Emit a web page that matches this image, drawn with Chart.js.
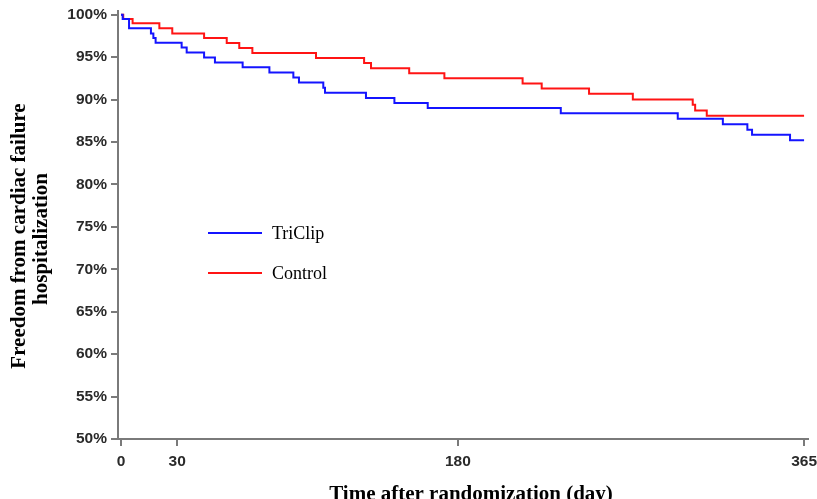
<!DOCTYPE html>
<html>
<head>
<meta charset="utf-8">
<script src="https://cdn.jsdelivr.net/npm/chart.js@4/dist/chart.umd.min.js"></script>
<style>
html,body{margin:0;padding:0;background:#fff;overflow:hidden}
#wrap{width:817px;height:499px;position:relative}
</style>
</head>
<body>
<div id="wrap"><canvas id="c" width="817" height="499"></canvas></div>
<script>
// ---- data (Kaplan-Meier steps) ----
const seriesNames = ['TriClip', 'Control'];
const triclipDays = [0, 0.9, 4.3, 16.0, 17.3, 18.5, 32.4, 35.1, 44.4, 50.2, 65.0, 79.3, 92.1, 95.1, 108.1, 109.0, 130.9, 146.1, 163.9, 235.0, 297.5, 321.6, 334.7, 337.2, 357.5, 365];
const triclipSurv = [100, 99.5, 98.4, 97.8, 97.25, 96.7, 96.15, 95.56, 94.97, 94.38, 93.8, 93.2, 92.6, 92.0, 91.4, 90.8, 90.2, 89.6, 89.0, 88.4, 87.75, 87.1, 86.45, 85.85, 85.2, 85.2];
const controlDays = [0, 1.2, 6.2, 20.5, 27.4, 44.4, 56.5, 63.2, 70.2, 104.2, 129.9, 133.6, 154.0, 172.8, 214.6, 224.8, 250.1, 273.5, 305.5, 306.8, 313.0, 365];
const controlSurv = [100, 99.5, 99.0, 98.4, 97.8, 97.25, 96.66, 96.07, 95.5, 94.9, 94.3, 93.7, 93.1, 92.5, 91.9, 91.3, 90.7, 90.0, 89.4, 88.7, 88.1, 88.1];
const xTickValues = [0, 30, 180, 365];
const yTickValues = [50, 55, 60, 65, 70, 75, 80, 85, 90, 95, 100];
const xTitle = 'Time after randomization (day)';
const yTitleLines = ['Freedom from cardiac failure', 'hospitalization'];

const toPoints = (xs, ys) => xs.map((x, i) => ({ x: x, y: ys[i] }));
const seriesColors = ['#1414ff', '#ff1414'];

const axisColor = '#7a7a7a';
const tickFont = { family: '"Liberation Sans", Arial, sans-serif', size: 15.5, weight: 'bold' };

const overlayPlugin = {
  id: 'overlay',
  afterDraw(chart) {
    const ctx = chart.ctx;
    const area = chart.chartArea;
    ctx.save();
    // legend inside plot
    const items = [
      { name: seriesNames[0], color: seriesColors[0], y: area.top + 222 },
      { name: seriesNames[1], color: seriesColors[1], y: area.top + 262 }
    ];
    ctx.font = '18px "Liberation Serif", "Times New Roman", serif';
    ctx.textBaseline = 'middle';
    ctx.textAlign = 'left';
    items.forEach(it => {
      ctx.strokeStyle = it.color;
      ctx.lineWidth = 2;
      ctx.beginPath();
      ctx.moveTo(area.left + 90, it.y);
      ctx.lineTo(area.left + 144, it.y);
      ctx.stroke();
      ctx.fillStyle = '#000';
      ctx.fillText(it.name, area.left + 154, it.y + 1);
    });
    // x title
    ctx.font = 'bold 21px "Liberation Serif", "Times New Roman", serif';
    ctx.textAlign = 'center';
    ctx.textBaseline = 'alphabetic';
    ctx.fillText(xTitle, 471, 500);
    // y title (two lines, rotated)
    const baselines = [25, 47];
    const centers = [236, 239];
    yTitleLines.forEach((t, i) => {
      ctx.save();
      ctx.translate(baselines[i], centers[i]);
      ctx.rotate(-Math.PI / 2);
      ctx.fillText(t, 0, 0);
      ctx.restore();
    });
    ctx.restore();
  }
};

new Chart(document.getElementById('c'), {
  type: 'line',
  data: {
    datasets: [
      { label: seriesNames[0], data: toPoints(triclipDays, triclipSurv), borderColor: seriesColors[0], borderWidth: 2, stepped: true, pointRadius: 0, fill: false },
      { label: seriesNames[1], data: toPoints(controlDays, controlSurv), borderColor: seriesColors[1], borderWidth: 2, stepped: true, pointRadius: 0, fill: false }
    ]
  },
  options: {
    responsive: false,
    animation: false,
    devicePixelRatio: 1,
    layout: { padding: { top: 11, right: 9, left: 0, bottom: 0 } },
    plugins: { legend: { display: false }, tooltip: { enabled: false } },
    scales: {
      x: {
        type: 'linear',
        min: -1.6,
        max: 367.1,
        afterBuildTicks: s => { s.ticks = xTickValues.map(v => ({ value: v })); },
        afterFit: s => { s.height = 60; s.paddingLeft = 0; s.paddingRight = 0; },
        border: { display: true, color: axisColor, width: 2 },
        grid: { display: true, drawOnChartArea: false, drawTicks: true, tickLength: 7, color: axisColor, lineWidth: 2 },
        ticks: { font: tickFont, color: '#2a2a2a', padding: 6, maxRotation: 0, autoSkip: false, callback: v => String(v) }
      },
      y: {
        type: 'linear',
        min: 50,
        max: 100.44,
        afterBuildTicks: s => { s.ticks = yTickValues.map(v => ({ value: v })); },
        afterFit: s => { s.width = 118; s.paddingTop = 0; s.paddingBottom = 0; },
        border: { display: true, color: axisColor, width: 2 },
        grid: { display: true, drawOnChartArea: false, drawTicks: true, tickLength: 7, color: axisColor, lineWidth: 2 },
        ticks: { font: tickFont, color: '#2a2a2a', padding: 4, autoSkip: false, callback: v => v + '%' }
      }
    }
  },
  plugins: [overlayPlugin]
});
</script>
</body>
</html>
